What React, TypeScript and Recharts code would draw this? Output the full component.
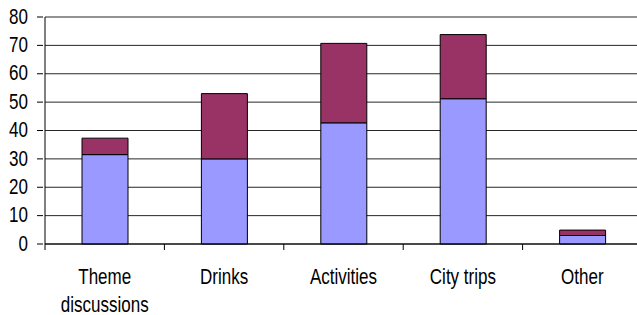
import { BarChart, Bar, XAxis, YAxis, CartesianGrid } from 'recharts'

const categories = ['Theme discussions', 'Drinks', 'Activities', 'City trips', 'Other']
const lowerValues = [31.5, 30, 42.7, 51.2, 3]
const upperValues = [5.8, 23, 28, 22.6, 1.9]
const yTicks = [0, 10, 20, 30, 40, 50, 60, 70, 80]

const data = categories.map((name, i) => ({
  name,
  lower: lowerValues[i],
  upper: upperValues[i],
}))

const FONT = 'Liberation Sans, Arial, sans-serif'
const BAND = 119.4
const AXIS_Y = 244

function YTick(props: any) {
  const { x, y, payload } = props
  return (
    <g>
      <line x1={x} x2={x + 6} y1={y} y2={y} stroke="#000" />
      <text
        transform={`translate(${x - 9},${y + 6.7}) scale(1,1.25)`}
        textAnchor="end"
        fontFamily={FONT}
        fontSize={17}
        fill="#000"
      >
        {payload.value}
      </text>
    </g>
  )
}

function XTick(props: any) {
  const { x, payload } = props
  const words = String(payload.value) === 'Theme discussions' ? ['Theme', 'discussions'] : [String(payload.value)]
  const left = x - BAND / 2
  return (
    <g>
      <line x1={left} x2={left} y1={AXIS_Y} y2={AXIS_Y + 6} stroke="#000" />
      {words.map((w, i) => (
        <text
          key={w}
          transform={`translate(${x},${283.5 + i * 28.5}) scale(1,1.25)`}
          textAnchor="middle"
          fontFamily={FONT}
          fontSize={17}
          fill="#000"
        >
          {w}
        </text>
      ))}
    </g>
  )
}

export default function App() {
  return (
    <div style={{ position: 'absolute', left: 0, top: 0, width: 637, height: 315, overflow: 'hidden', background: '#fff' }}>
      <BarChart
        width={660}
        height={315}
        data={data}
        margin={{ top: 17, right: 18, bottom: 0, left: 0 }}
        barSize={46}
        style={{ overflow: 'visible' }}
      >
        <CartesianGrid vertical={false} stroke="#000" strokeOpacity={0.85} />
        <XAxis
          dataKey="name"
          height={71}
          axisLine={{ stroke: '#000' }}
          tickLine={false}
          tick={<XTick />}
          interval={0}
        />
        <YAxis
          width={45}
          domain={[0, 80]}
          ticks={yTicks}
          axisLine={{ stroke: '#000' }}
          tickLine={false}
          tick={<YTick />}
          interval={0}
        />
        <Bar dataKey="lower" stackId="a" fill="#9999FF" stroke="#000" strokeWidth={1} isAnimationActive={false} />
        <Bar dataKey="upper" stackId="a" fill="#993366" stroke="#000" strokeWidth={1} isAnimationActive={false} />
      </BarChart>
    </div>
  )
}
